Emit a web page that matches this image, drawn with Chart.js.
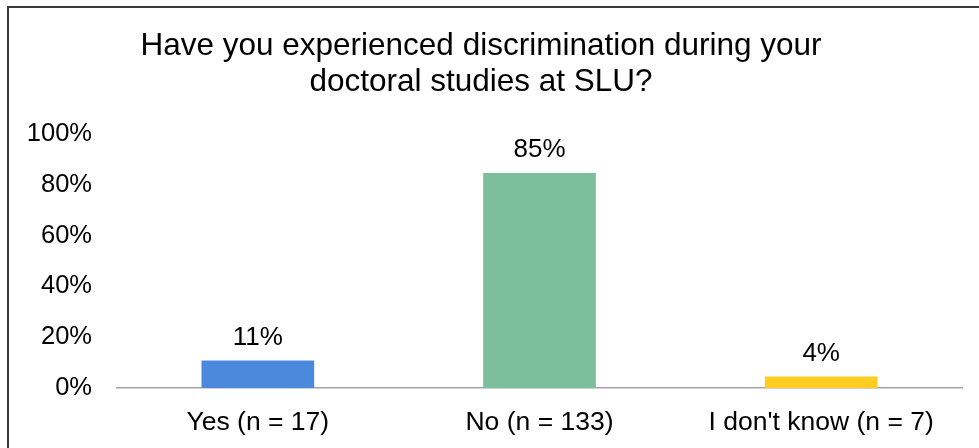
<!DOCTYPE html>
<html>
<head>
<meta charset="utf-8">
<script src="https://cdn.jsdelivr.net/npm/chart.js@4"></script>
<style>
    body { margin: 0; background: #fff; }
    #frame {
        position: absolute;
        left: 7px;
        top: 6px;
        width: 1200px;
        height: 800px;
        border-left: 2px solid #3a3a3a;
        border-top: 2px solid #3a3a3a;
    }
    #box { position: absolute; left: 0; top: 0; width: 979px; height: 448px; }
</style>
</head>
<body>
<div id="frame"></div>
<div id="box"><canvas id="chart_disc"></canvas></div>
<script>
const labels = [
    'Yes (n = 17)',
    'No (n = 133)',
    'I don\'t know (n = 7)',
];
const shares = [10.8, 84.7, 4.5];
const shareLabels = ['11%', '85%', '4%'];
const barColors = ['#4A89DC', '#7BC09A', '#FFCC21'];
const yTicks = [0, 20, 40, 60, 80, 100];

const fontFamily = '"Liberation Sans", Arial, sans-serif';

// text above each bar
const valueLabels = {
    id: 'valueLabels',
    afterDatasetsDraw(chart) {
        const ctx = chart.ctx;
        const meta = chart.getDatasetMeta(0);
        ctx.save();
        ctx.font = '26px ' + fontFamily;
        ctx.fillStyle = '#000';
        ctx.textAlign = 'center';
        ctx.textBaseline = 'alphabetic';
        meta.data.forEach((bar, i) => {
            ctx.fillText(shareLabels[i], bar.x, bar.y - 16);
        });
        ctx.restore();
    }
};

const data = {
    labels: labels,
    datasets: [{
        label: 'Share',
        backgroundColor: barColors,
        data: shares,
        categoryPercentage: 1,
        barPercentage: 0.4,
    }]
};

const config = {
    type: 'bar',
    data: data,
    plugins: [valueLabels],
    options: {
        responsive: false,
        animation: false,
        layout: {
            padding: { left: 0, right: 17, top: 0, bottom: 0 }
        },
        plugins: {
            legend: { display: false },
            tooltip: { enabled: false },
            title: {
                display: true,
                text: ['Have you experienced discrimination during your', 'doctoral studies at SLU?'],
                color: '#000',
                font: { family: fontFamily, size: 31.5, weight: 'normal', lineHeight: 1.16 },
                padding: { top: 28, bottom: 33 }
            }
        },
        scales: {
            x: {
                grid: { display: false, drawTicks: false },
                border: { display: true, color: '#A6A6A6', width: 1.5 },
                ticks: {
                    color: '#000',
                    font: { family: fontFamily, size: 26.5 },
                    padding: 19,
                    maxRotation: 0
                },
                afterFit(scale) { scale.height = 60; }
            },
            y: {
                min: 0,
                max: 100,
                afterBuildTicks(scale) {
                    scale.ticks = yTicks.map(v => ({ value: v }));
                },
                grid: { display: false, drawTicks: false },
                border: { display: false },
                ticks: {
                    color: '#000',
                    font: { family: fontFamily, size: 25.5 },
                    padding: 25,
                    callback: v => v + '%'
                },
                afterFit(scale) { scale.width = 117; }
            }
        }
    }
};

const canvas = document.getElementById('chart_disc');
canvas.width = 979;
canvas.height = 448;
const myChart = new Chart(canvas, config);
</script>
</body>
</html>
